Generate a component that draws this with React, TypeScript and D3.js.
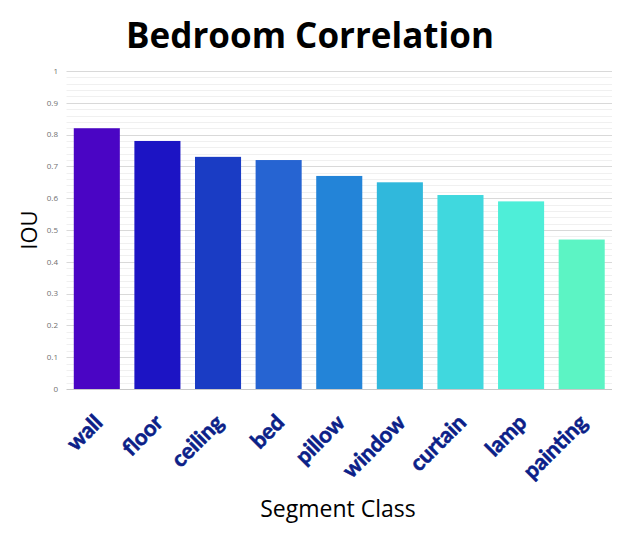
import React, { useEffect, useRef } from "react";
import * as d3 from "d3";

const categories = ["wall", "floor", "ceiling", "bed", "pillow", "window", "curtain", "lamp", "painting"];
const iou = [0.82, 0.78, 0.73, 0.72, 0.67, 0.65, 0.61, 0.59, 0.47];
const barColors = ["#4a05c4", "#1c14c4", "#1a3cc4", "#2664d2", "#2384d8", "#30b8dc", "#40d8de", "#4eeed8", "#5cf4c4"];
const yTicks = [0, 0.1, 0.2, 0.3, 0.4, 0.5, 0.6, 0.7, 0.8, 0.9, 1];

const W = 623;
const H = 537;

export default function App() {
  const svgRef = useRef<SVGSVGElement>(null);

  useEffect(() => {
    if (!svgRef.current) return;
    const svg = d3.select(svgRef.current);
    svg.selectAll("*").remove();

    const left = 66.5;
    const right = 612;
    const top = 71;
    const bottom = 389;

    const x = d3.scaleBand<string>().domain(categories).range([left, right]).paddingInner(0.24).paddingOuter(0.12);
    const y = d3.scaleLinear().domain([0, 1]).range([bottom, top]);

    // minor gridlines every 0.02
    const minor = d3.range(0, 51).map((i) => i / 50).filter((v) => Math.round(v * 50) % 5 !== 0);
    svg
      .append("g")
      .selectAll("line")
      .data(minor)
      .join("line")
      .attr("x1", left)
      .attr("x2", right)
      .attr("y1", (d) => Math.round(y(d)) + 0.5)
      .attr("y2", (d) => Math.round(y(d)) + 0.5)
      .attr("stroke", "#f0f0f0")
      .attr("stroke-width", 1);

    // major gridlines
    svg
      .append("g")
      .selectAll("line")
      .data(yTicks)
      .join("line")
      .attr("x1", left)
      .attr("x2", right)
      .attr("y1", (d) => Math.round(y(d)) + 0.5)
      .attr("y2", (d) => Math.round(y(d)) + 0.5)
      .attr("stroke", (d) => (d === 0 ? "#c8c8c8" : "#d9d9d9"))
      .attr("stroke-width", 1);

    // tick labels
    svg
      .append("g")
      .selectAll("text")
      .data(yTicks)
      .join("text")
      .attr("x", 58)
      .attr("y", (d) => y(d))
      .attr("dy", "0.35em")
      .attr("text-anchor", "end")
      .attr("font-family", "'Open Sans', sans-serif")
      .attr("font-size", 8)
      .attr("fill", "#6f6f6f")
      .text((d) => d3.format("")(d));

    // bars
    svg
      .append("g")
      .selectAll("rect")
      .data(categories)
      .join("rect")
      .attr("x", (d) => x(d)!)
      .attr("width", x.bandwidth())
      .attr("y", (d, i) => y(iou[i]))
      .attr("height", (d, i) => bottom - y(iou[i]))
      .attr("fill", (d, i) => barColors[i]);

    // category labels
    svg
      .append("g")
      .selectAll("text")
      .data(categories)
      .join("text")
      .attr("transform", (d) => `translate(${x(d)! + x.bandwidth() / 2 + 7},${424}) rotate(-45)`)
      .attr("text-anchor", "end")
      .attr("font-family", "Lato, sans-serif")
      .attr("font-weight", "bold")
      .attr("font-size", 22)
      .attr("fill", "#0c1f88")
      .attr("stroke", "#0c1f88")
      .attr("stroke-width", 0.6)
      .text((d) => d);

    // title
    svg
      .append("text")
      .attr("x", 310)
      .attr("y", 48)
      .attr("text-anchor", "middle")
      .attr("font-family", "'Open Sans', sans-serif")
      .attr("font-weight", "bold")
      .attr("font-size", 35)
      .attr("fill", "#000")
      .text("Bedroom Correlation");

    // axis titles
    svg
      .append("text")
      .attr("transform", `translate(37,230) rotate(-90)`)
      .attr("text-anchor", "middle")
      .attr("font-family", "'Open Sans', sans-serif")
      .attr("font-size", 22)
      .attr("fill", "#000")
      .text("IOU");

    svg
      .append("text")
      .attr("x", 338)
      .attr("y", 517)
      .attr("text-anchor", "middle")
      .attr("font-family", "'Open Sans', sans-serif")
      .attr("font-size", 23)
      .attr("fill", "#000")
      .text("Segment Class");
  }, []);

  return (
    <svg
      ref={svgRef}
      width={W}
      height={H}
      style={{ position: "absolute", left: 0, top: 0, background: "#fff" }}
    ></svg>
  );
}
